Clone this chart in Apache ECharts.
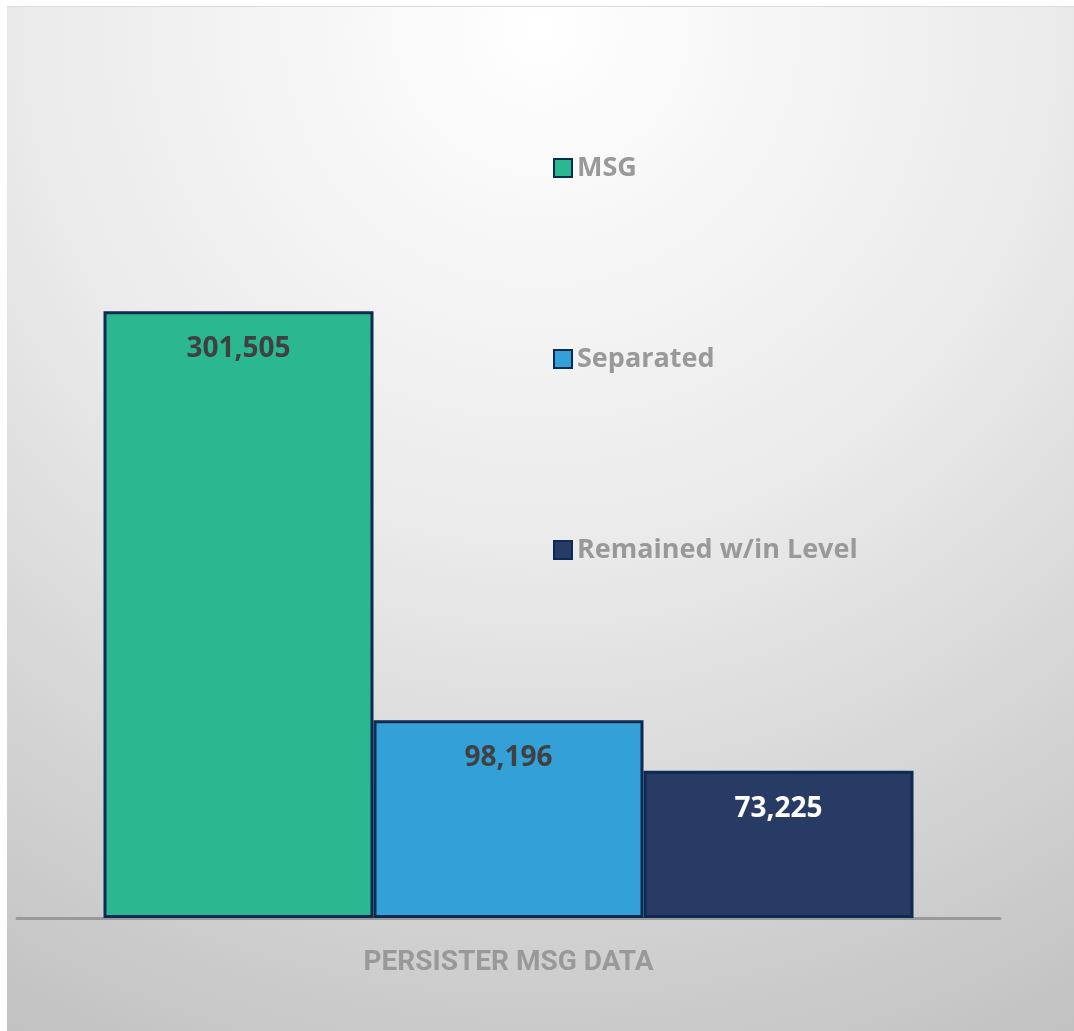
<!DOCTYPE html>
<html>
<head>
<meta charset="utf-8">
<script src="https://cdn.jsdelivr.net/npm/echarts@6/dist/echarts.min.js"></script>
<style>
  html, body { margin: 0; padding: 0; background: #fff; }
  #chart { position: absolute; left: 7px; top: 6px; width: 1067px; height: 1025px; border-top: 1px solid #dcdcdc; }
</style>
</head>
<body>
<div id="chart"></div>
<script>
const categories = ["PERSISTER MSG DATA"];
const seriesNames = ["MSG", "Separated", "Remained w/in Level"];
const msgValues = [301505];
const separatedValues = [98196];
const remainedValues = [73225];

const colors = ["#2bb890", "#33a0d7", "#283b64"];
const labelColors = ["#404040", "#404040", "#ffffff"];
const seriesData = [msgValues, separatedValues, remainedValues];

const chart = echarts.init(document.getElementById("chart"));
const option = {
  animation: false,
  backgroundColor: {
    type: "radial", x: 0.5, y: 0.02, r: 1.1,
    colorStops: [
      { offset: 0, color: "#ffffff" },
      { offset: 0.45, color: "#ebebeb" },
      { offset: 1, color: "#c2c2c2" }
    ]
  },
  legend: {
    orient: "vertical",
    left: 541,
    top: 141,
    itemWidth: 18,
    itemHeight: 18,
    itemGap: 161,
    icon: "rect",
    textStyle: { color: "#999999", fontSize: 27, fontWeight: "bold", fontFamily: "Open Sans", lineHeight: 30 }
  },
  grid: { left: 10, right: 74, top: 110, bottom: 114 },
  xAxis: {
    type: "category",
    data: categories,
    axisTick: { show: false },
    axisLine: { lineStyle: { color: "#999999", width: 3 } },
    axisLabel: { color: "#999999", fontSize: 28, fontWeight: "bold", fontFamily: "Roboto", margin: 31 }
  },
  yAxis: { type: "value", min: 0, max: 398000, show: false, splitLine: { show: false } },
  series: seriesNames.map((name, i) => ({
    name: name,
    type: "bar",
    data: seriesData[i],
    barWidth: 270,
    barGap: "0%",
    itemStyle: { color: colors[i], borderColor: "#0d2a52", borderWidth: 3 },
    label: {
      show: true,
      position: "insideTop",
      distance: 24,
      color: labelColors[i],
      fontSize: 28,
      fontWeight: "bold",
      fontFamily: "Open Sans",
      formatter: p => p.value.toLocaleString("en-US")
    }
  }))
};
chart.setOption(option);
</script>
</body>
</html>
